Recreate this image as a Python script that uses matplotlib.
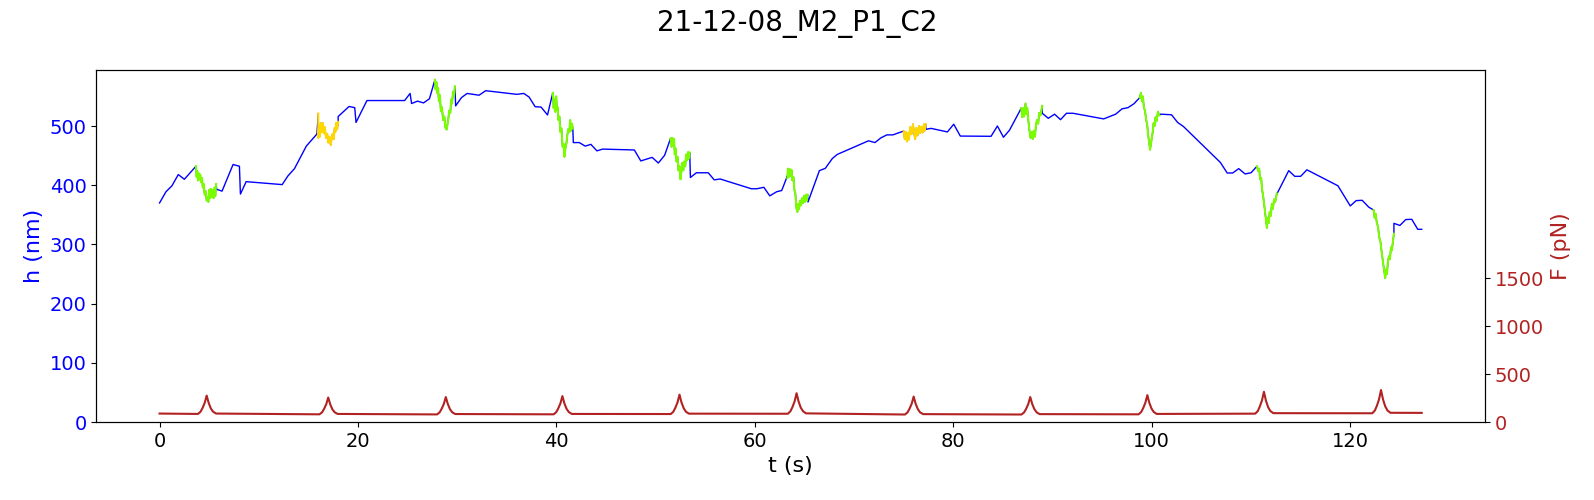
import matplotlib
matplotlib.use('Agg')
import matplotlib.pyplot as plt

# height signal, alternating: free segment, press segment, free segment...
free_t = [
    [0, 0.65, 1.25, 1.89, 2.5, 3.67],
    [5.76, 6.3, 7.41, 8.05, 8.15, 8.73, 12.36, 12.93, 13.6, 14.79, 15.86],
    [18.0, 19.1, 19.67, 19.8, 20.9, 24.7, 25.25, 25.4, 26, 26.6, 27.2, 27.75],
    [29.84, 30.43, 31.0, 32.2, 32.87, 36, 36.7, 37.24, 37.85, 38.45, 39.1, 39.63],
    [41.7, 42.3, 42.9, 43.47, 44.08, 44.65, 47.85, 48.5, 49.64, 50.27, 50.9, 51.5],
    [53.5, 54.1, 55.3, 55.9, 56.5, 59.64, 60.2, 60.9, 61.5, 62.2, 62.7, 63.27],
    [65.35, 65.96, 66.5, 67.1, 67.8, 68.3, 71.45, 72.1, 72.7, 73.3, 73.9, 75],
    [77.24, 77.75, 79.4, 80.04, 80.7, 83.8, 84.44, 85.05, 85.66, 86.84],
    [88.96, 89.57, 90.2, 90.8, 91.4, 92.06, 95.15, 96.36, 97, 97.6, 98.2, 98.8],
    [100.88, 101.99, 102.6, 103.2, 106.9, 107.6, 108.15, 108.76, 109.4, 110, 110.6],
    [112.6, 113.8, 114.4, 115, 115.63, 118.76, 120, 120.6, 121.2, 121.86, 122.36],
    [124.4, 125, 125.6, 126.2, 126.8, 127.2],
]
free_h = [
    [370, 389, 399, 418, 410, 432],
    [393, 390, 435, 432, 385, 406, 401, 415.5, 428, 466, 486.5],
    [516, 533, 531, 506, 543, 543, 555, 538, 542, 539, 546, 577.7],
    [534, 548, 555, 552, 559.6, 553.5, 555, 549, 532.6, 532, 518.6, 556],
    [472, 472, 466, 469, 458, 461, 459.5, 441, 447, 437.5, 450.5, 479],
    [413, 421, 421, 409, 410.5, 394, 394, 396.5, 382, 389, 391, 415.5],
    [371.6, 400, 424.6, 428.5, 445, 452, 475, 472, 480, 485, 485, 491.5],
    [494.4, 496, 490, 503, 483, 482.6, 500, 481, 493, 530],
    [521.5, 513, 520, 510.7, 521.5, 521.5, 512, 520, 529, 531, 537.6, 548.3],
    [520, 519, 506, 499, 438.6, 420.6, 420.6, 428, 419, 421, 432],
    [385, 424.6, 415, 415, 426, 399, 365, 374, 374.5, 363, 358],
    [335.6, 332, 342, 342.4, 325.5, 325.5],
]
press_t = [
    [3.67, 3.74, 3.8, 3.88, 3.95, 4.02, 4.1, 4.18, 4.28, 4.36, 4.45, 4.55, 4.65, 4.75, 4.85, 4.92, 5.0, 5.08, 5.15, 5.25, 5.35, 5.45, 5.55, 5.62, 5.7],
    [16.0, 16.0, 16.08, 16.15, 16.25, 16.35, 16.45, 16.55, 16.65, 16.78, 16.9, 17.0, 17.12, 17.25, 17.35, 17.45, 17.55, 17.65, 17.72, 17.8, 17.9, 18.0],
    [27.75, 27.82, 27.9, 27.98, 28.07, 28.15, 28.25, 28.35, 28.45, 28.58, 28.7, 28.8, 28.93, 29.02, 29.1, 29.2, 29.3, 29.4, 29.48, 29.58, 29.66, 29.77],
    [39.63, 39.72, 39.8, 39.88, 39.97, 40.05, 40.12, 40.2, 40.3, 40.4, 40.5, 40.62, 40.72, 40.8, 40.9, 41.0, 41.1, 41.2, 41.3, 41.38, 41.46, 41.56, 41.65],
    [51.5, 51.6, 51.68, 51.76, 51.85, 51.92, 52.0, 52.1, 52.2, 52.3, 52.4, 52.5, 52.6, 52.7, 52.78, 52.88, 52.98, 53.08, 53.18, 53.28, 53.35, 53.43],
    [63.27, 63.33, 63.42, 63.5, 63.6, 63.68, 63.78, 63.88, 63.98, 64.08, 64.18, 64.28, 64.36, 64.45, 64.55, 64.65, 64.75, 64.85, 64.95, 65.05, 65.15, 65.25, 65.3],
    [75, 75.1, 75.2, 75.32, 75.42, 75.52, 75.65, 75.78, 75.93, 76.03, 76.15, 76.28, 76.4, 76.56, 76.65, 76.78, 76.9, 77.05, 77.12, 77.2],
    [86.84, 86.94, 87.03, 87.12, 87.27, 87.36, 87.45, 87.55, 87.65, 87.78, 87.9, 88.0, 88.12, 88.22, 88.32, 88.42, 88.55, 88.65, 88.78, 88.96],
    [98.8, 98.9, 99.0, 99.1, 99.2, 99.32, 99.42, 99.55, 99.62, 99.72, 99.82, 99.9, 100.0, 100.08, 100.18, 100.28, 100.38, 100.48, 100.62, 100.75],
    [110.6, 110.72, 110.82, 110.92, 111.02, 111.12, 111.22, 111.32, 111.42, 111.52, 111.6, 111.68, 111.78, 111.88, 111.98, 112.1, 112.2, 112.32, 112.44, 112.6],
    [122.36, 122.46, 122.55, 122.68, 122.8, 122.92, 123.05, 123.18, 123.3, 123.42, 123.52, 123.62, 123.7, 123.8, 123.9, 124.0, 124.1, 124.2, 124.3, 124.4],
]
press_h = [
    [432, 414, 424, 408, 420, 410, 418, 405, 412, 396, 402, 384, 390, 374, 380, 372, 392, 378, 394, 380, 392, 378, 396, 382, 402],
    [521, 480, 500, 482, 505, 490, 505, 488, 498, 480, 487, 472, 482, 468, 480, 487, 478, 497, 490, 505, 495, 507],
    [578, 562, 574, 556, 564, 542, 552, 525, 532, 510, 516, 498, 494, 503, 512, 526, 522, 545, 538, 558, 550, 567],
    [556, 530, 545, 524, 550, 528, 532, 510, 516, 490, 496, 465, 470, 448, 462, 470, 485, 495, 490, 510, 492, 504, 496],
    [479, 465, 480, 466, 478, 452, 462, 440, 448, 425, 432, 410, 425, 438, 425, 440, 432, 452, 442, 456, 445, 455],
    [412, 428, 414, 427, 416, 426, 408, 414, 392, 386, 362, 355, 368, 360, 374, 366, 378, 370, 382, 372, 384, 374, 384],
    [491, 478, 490, 474, 488, 477, 498, 486, 503, 490, 478, 497, 484, 500, 488, 499, 489, 503, 492, 503],
    [530, 515, 530, 516, 538, 520, 530, 510, 495, 480, 490, 478, 492, 482, 500, 510, 504, 522, 518, 534],
    [548, 556, 542, 550, 532, 525, 512, 500, 485, 475, 460, 468, 480, 488, 505, 500, 515, 508, 524, 518],
    [432, 424, 428, 410, 412, 392, 382, 368, 354, 340, 328, 345, 336, 355, 348, 368, 360, 376, 372, 386],
    [358, 345, 352, 336, 330, 312, 304, 285, 270, 256, 243, 258, 250, 272, 280, 275, 295, 290, 305, 318],
]
press_color = ['lawngreen', 'gold', 'lawngreen', 'lawngreen', 'lawngreen', 'lawngreen',
               'gold', 'lawngreen', 'lawngreen', 'lawngreen', 'lawngreen']

# force signal
force_t = [0,
    3.87, 4.13, 4.33, 4.55, 4.75, 4.95, 5.17, 5.4, 5.7,
    16.12, 16.38, 16.58, 16.8, 17, 17.2, 17.42, 17.65, 17.95,
    27.97, 28.23, 28.43, 28.65, 28.85, 29.05, 29.27, 29.5, 29.8,
    39.72, 39.98, 40.18, 40.4, 40.6, 40.8, 41.02, 41.25, 41.55,
    51.52, 51.78, 51.98, 52.2, 52.4, 52.6, 52.82, 53.05, 53.35,
    63.32, 63.58, 63.78, 64, 64.2, 64.4, 64.62, 64.85, 65.15,
    75.12, 75.38, 75.58, 75.8, 76, 76.2, 76.42, 76.65, 76.95,
    86.87, 87.13, 87.33, 87.55, 87.75, 87.95, 88.17, 88.4, 88.7,
    98.67, 98.93, 99.13, 99.35, 99.55, 99.75, 99.97, 100.2, 100.5,
    110.42, 110.68, 110.88, 111.1, 111.3, 111.5, 111.72, 111.95, 112.25,
    122.22, 122.48, 122.68, 122.9, 123.1, 123.3, 123.52, 123.75, 124.05,
    127.2]
force_f = [88,
    84, 107, 145, 199, 275, 199, 141, 107, 88,
    80, 101, 136, 185, 255, 185, 132, 101, 84,
    79, 101, 137, 188, 260, 188, 133, 101, 83,
    80, 103, 141, 194, 270, 194, 137, 103, 84,
    83, 107, 148, 204, 285, 204, 144, 107, 87,
    86, 112, 154, 214, 300, 214, 150, 112, 90,
    78, 100, 138, 190, 265, 190, 134, 100, 82,
    78, 100, 136, 187, 260, 187, 133, 100, 82,
    80, 104, 144, 200, 280, 200, 140, 104, 84,
    87, 114, 160, 224, 315, 224, 155, 114, 92,
    91, 120, 168, 236, 333, 236, 164, 120, 96,
    95]

# stitch the height signal back together in time order
all_t = []
all_h = []
for i in range(len(free_t)):
    all_t += free_t[i]
    all_h += free_h[i]
    if i < len(press_t):
        all_t += press_t[i]
        all_h += press_h[i]

fig, ax = plt.subplots(figsize=(15.94, 5), dpi=100)
fig.subplots_adjust(left=0.0605, right=0.9315, bottom=0.156, top=0.86)
fig.suptitle('21-12-08_M2_P1_C2', fontsize=20)

ax.plot(all_t, all_h, color='blue', lw=1)
for i in range(len(press_t)):
    ax.plot(press_t[i], press_h[i], color=press_color[i], lw=1.5)
ax.set_xlabel('t (s)', fontsize=16)
ax.set_ylabel('h (nm)', color='blue', fontsize=16)
ax.tick_params(axis='x', labelsize=14)
ax.tick_params(axis='y', labelsize=14, labelcolor='blue')
ax.set_ylim(0, 594.6)

axF = ax.twinx()
axF.plot(force_t, force_f, color='firebrick', lw=1.5)
axF.set_ylabel('F (pN)', color='firebrick', fontsize=16, labelpad=5)
axF.tick_params(axis='y', labelsize=14, labelcolor='firebrick')
axF.set_ylim(0, 3667)
axF.set_yticks([0, 500, 1000, 1500])

fig.savefig('out.png', dpi=100)
